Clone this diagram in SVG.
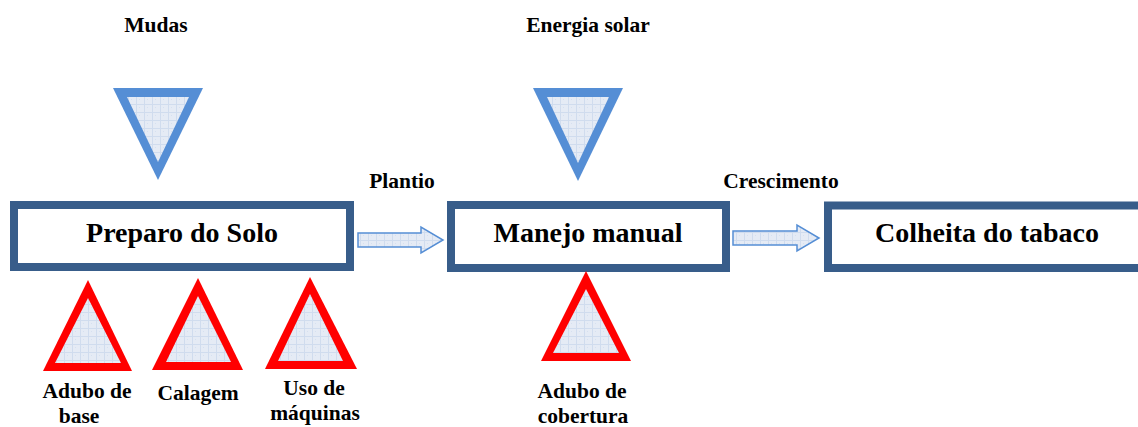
<svg xmlns="http://www.w3.org/2000/svg" width="1138" height="427" viewBox="0 0 1138 427">
<defs>
<pattern id="grid" width="8" height="8" patternUnits="userSpaceOnUse">
<rect width="8" height="8" fill="#e5ebf5"/>
<path d="M0 0.5H8M0.5 0V8" stroke="#d0dcee" stroke-width="1"/>
<rect x="3" y="3" width="1" height="1" fill="#d6e0f0"/>
</pattern>
</defs>
<style>
.box{fill:#fff;stroke:#385d8a;stroke-width:8}
.bt{font-family:"Liberation Serif","Times New Roman",serif;font-weight:bold;font-size:28px;fill:#000;text-anchor:middle}
.lb{font-family:"Liberation Serif","Times New Roman",serif;font-weight:bold;font-size:21.5px;fill:#000;text-anchor:middle}
.blue{fill:#558ed5}
.red{fill:#ff0000}
.in{fill:url(#grid)}
.arrow{fill:url(#grid);stroke:#558ed5;stroke-width:1.5}
</style>
<rect width="1138" height="427" fill="#fff"/>

<g id="node-preparo">
<rect class="box" x="14" y="205" width="336" height="62"/>
<text class="bt" x="182" y="242">Preparo do Solo</text>
</g>
<g id="node-manejo">
<rect class="box" x="451" y="205" width="275" height="63"/>
<text class="bt" x="588" y="242">Manejo manual</text>
</g>
<g id="node-colheita">
<rect class="box" x="828" y="205.5" width="330" height="62.5"/>
<text class="bt" x="987" y="242">Colheita do tabaco</text>
</g>

<g id="input-mudas">
<polygon class="blue" points="113,88 203,88 158,180"/>
<polygon class="in" points="127,97 189,97 158,162"/>
<text class="lb" x="156" y="32">Mudas</text>
</g>
<g id="input-energia">
<polygon class="blue" points="533,88 623,88 578,181"/>
<polygon class="in" points="547,97 609,97 578,163"/>
<text class="lb" x="588" y="32">Energia solar</text>
</g>

<g id="input-adubo-base">
<polygon class="red" points="88,280 43,371 132,371"/>
<polygon class="in" points="88,298 55,363 121,363"/>
<text class="lb" x="87" y="398">Adubo de</text>
<text class="lb" x="79" y="423">base</text>
</g>
<g id="input-calagem">
<polygon class="red" points="198,278 152,370 243,370"/>
<polygon class="in" points="198,296 166,362 231,362"/>
<text class="lb" x="198" y="400">Calagem</text>
</g>
<g id="input-maquinas">
<polygon class="red" points="310,277 265,369 357,369"/>
<polygon class="in" points="310,294 278,361 343,361"/>
<text class="lb" x="314" y="395">Uso de</text>
<text class="lb" x="315" y="420">máquinas</text>
</g>
<g id="input-adubo-cobertura">
<polygon class="red" points="586,271 541,361 631,361"/>
<polygon class="in" points="586,289 553,353 619,353"/>
<text class="lb" x="582" y="398">Adubo de</text>
<text class="lb" x="583" y="423">cobertura</text>
</g>

<g id="connectors">
<polygon class="arrow" points="358,233 421,233 421,227 443,240 421,253 421,247 358,247"/>
<text class="lb" x="402" y="188">Plantio</text>
<polygon class="arrow" points="733,231 797,231 797,225 819,238 797,251 797,245 733,245"/>
<text class="lb" x="781" y="188">Crescimento</text>
</g>
</svg>
